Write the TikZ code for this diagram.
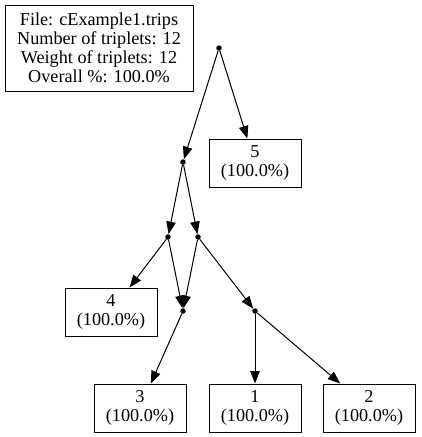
\documentclass[tikz,border=0pt]{standalone}
\usepackage{fontspec}
\setmainfont{Liberation Serif}
\usetikzlibrary{arrows.meta}
\newcommand\labelfont{\fontsize{18.2}{19}\selectfont}
\begin{document}
\begin{tikzpicture}[x=1pt,y=-1pt,
  txt/.style={font=\labelfont, align=center, inner sep=0pt},
  leaf/.style={txt, draw, line width=1pt, minimum width=92pt, minimum height=48pt},
  junction/.style={circle, fill=black, minimum size=5.5pt, inner sep=0pt},
  link/.style={draw, line width=1pt, -{Triangle[length=12.5pt,width=9.5pt]}}]
\useasboundingbox (0,0) rectangle (421,437);

% header box with file statistics
\node[txt, draw, line width=1pt, minimum width=188pt, minimum height=86pt] (info) at (99,48)
  {File: cExample1.trips\\Number of triplets: 12\\Weight of triplets: 12\\Overall \%: 100.0\%};

% internal vertices
\node[junction] (r) at (219,48) {};
\node[junction] (a) at (183,162) {};
\node[junction] (b) at (168,237) {};
\node[junction] (c) at (198,237) {};
\node[junction] (d) at (183,311) {};
\node[junction] (e) at (255,311) {};

% leaves
\node[leaf] (l5) at (255,163) {5\\(100.0\%)};
\node[leaf] (l4) at (111,312) {4\\(100.0\%)};
\node[leaf] (l3) at (140,408) {3\\(100.0\%)};
\node[leaf] (l1) at (255,408) {1\\(100.0\%)};
\node[leaf] (l2) at (369,408) {2\\(100.0\%)};

% edges
\path[link] (r) -- (a);
\path[link] (r) -- (l5);
\path[link] (a) -- (b);
\path[link] (a) -- (c);
\path[link] (b) -- (l4);
\path[link] (b) -- (d);
\path[link] (c) -- (d);
\path[link] (c) -- (e);
\path[link] (d) -- (l3);
\path[link] (e) -- (l1);
\path[link] (e) -- (l2);
\end{tikzpicture}
\end{document}
